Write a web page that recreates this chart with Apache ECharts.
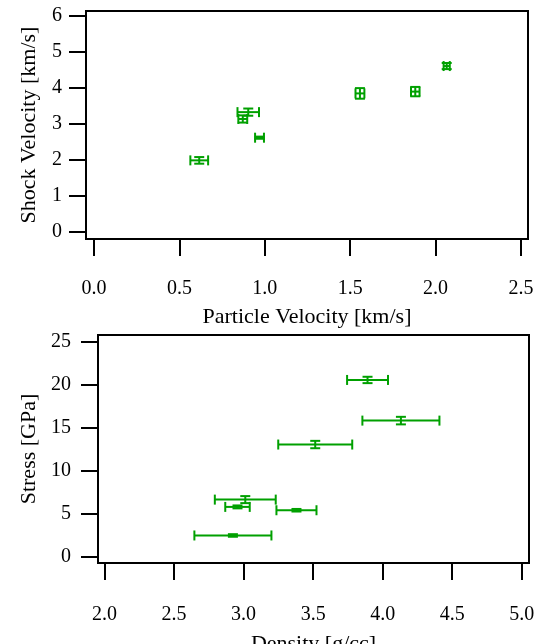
<!DOCTYPE html>
<html>
<head>
<meta charset="utf-8">
<script src="https://cdn.jsdelivr.net/npm/echarts@6/dist/echarts.min.js"></script>
<style>
html,body{margin:0;padding:0;background:#fff;}
#chart{width:538px;height:644px;}
</style>
</head>
<body>
<div id="chart"></div>
<script>
// ---- Top panel: Shock velocity vs particle velocity ----
const particleVelocity = [0.616, 0.871, 0.903, 0.969, 1.557, 1.881, 2.065];
const shockVelocity    = [1.99, 3.14, 3.33, 2.62, 3.85, 3.90, 4.61];
const particleVelErr   = [0.052, 0.026, 0.063, 0.026, 0.026, 0.025, 0.018];
const shockVelErr      = [0.092, 0.10, 0.10, 0.03, 0.147, 0.13, 0.085];
const topXTicks = [0, 0.5, 1.0, 1.5, 2.0, 2.5];
const topYTicks = [0, 1, 2, 3, 4, 5, 6];

// ---- Bottom panel: Stress vs density ----
const density     = [3.891, 4.131, 3.515, 3.012, 2.956, 3.380, 2.923];
const stress      = [20.57, 15.83, 13.04, 6.62, 5.77, 5.38, 2.44];
const densityErr  = [0.147, 0.277, 0.266, 0.219, 0.088, 0.144, 0.277];
const stressErr   = [0.37, 0.44, 0.43, 0.41, 0.17, 0.15, 0.15];
const botXTicks = [2.0, 2.5, 3.0, 3.5, 4.0, 4.5, 5.0];
const botYTicks = [0, 5, 10, 15, 20, 25];

const GREEN = '#00a000';
const FONT = 'Liberation Serif';
const CAP = 5;

function buildData(xs, ys, xe, ye) {
  return xs.map((x, i) => [x, ys[i], xe[i], ye[i]]);
}

function renderErr(params, api) {
  const x = api.value(0), y = api.value(1), xe = api.value(2), ye = api.value(3);
  const l = api.coord([x - xe, y]);
  const r = api.coord([x + xe, y]);
  const t = api.coord([x, y + ye]);
  const b = api.coord([x, y - ye]);
  const st = { stroke: GREEN, lineWidth: 2, fill: null };
  const line = (x1, y1, x2, y2) => ({ type: 'line', shape: { x1, y1, x2, y2 }, style: st });
  return {
    type: 'group',
    children: [
      line(l[0], l[1], r[0], r[1]),
      line(l[0], l[1] - CAP, l[0], l[1] + CAP),
      line(r[0], r[1] - CAP, r[0], r[1] + CAP),
      line(t[0], t[1], b[0], b[1]),
      line(t[0] - CAP, t[1], t[0] + CAP, t[1]),
      line(b[0] - CAP, b[1], b[0] + CAP, b[1])
    ]
  };
}

function xAxisCfg(gridIndex, min, max, ticks, name, margin, nameGap) {
  return {
    type: 'value', gridIndex, min, max,
    name, nameLocation: 'middle', nameGap,
    nameTextStyle: { fontFamily: FONT, fontSize: 22, color: '#000' },
    axisLine: { show: true, onZero: false, lineStyle: { color: '#000', width: 2 } },
    axisTick: { show: true, inside: false, length: 17, customValues: ticks, lineStyle: { color: '#000', width: 2 } },
    axisLabel: { customValues: ticks, margin, fontFamily: FONT, fontSize: 20, color: '#000',
                 formatter: v => Number(v).toFixed(1) },
    splitLine: { show: false }
  };
}
function yAxisCfg(gridIndex, min, max, ticks, name, margin, nameGap) {
  return {
    type: 'value', gridIndex, min, max,
    name, nameLocation: 'middle', nameGap,
    nameTextStyle: { fontFamily: FONT, fontSize: 22, color: '#000' },
    axisLine: { show: true, onZero: false, lineStyle: { color: '#000', width: 2 } },
    axisTick: { show: true, inside: false, length: 17, customValues: ticks, lineStyle: { color: '#000', width: 2 } },
    axisLabel: { customValues: ticks, margin, fontFamily: FONT, fontSize: 20, color: '#000',
                 formatter: v => String(Math.round(v)) },
    splitLine: { show: false }
  };
}

const chart = echarts.init(document.getElementById('chart'), null, { renderer: 'canvas' });
chart.setOption({
  animation: false,
  backgroundColor: '#fff',
  grid: [
    { left: 86, top: 11, width: 442, height: 228, show: true, borderColor: '#000', borderWidth: 2,
      backgroundColor: 'transparent', containLabel: false, outerBoundsMode: 'none' },
    { left: 98, top: 335, width: 431, height: 228, show: true, borderColor: '#000', borderWidth: 2,
      backgroundColor: 'transparent', containLabel: false, outerBoundsMode: 'none' }
  ],
  xAxis: [
    xAxisCfg(0, -0.047, 2.541, topXTicks, 'Particle Velocity [km/s]', 40, 67),
    xAxisCfg(1, 1.953, 5.052, botXTicks, 'Density [g/cc]', 42, 70)
  ],
  yAxis: [
    yAxisCfg(0, -0.194, 6.139, topYTicks, 'Shock Velocity [km/s]', 24, 46),
    yAxisCfg(1, -0.77, 25.81, botYTicks, 'Stress [GPa]', 27, 58)
  ],
  series: [
    { type: 'custom', xAxisIndex: 0, yAxisIndex: 0, renderItem: renderErr,
      data: buildData(particleVelocity, shockVelocity, particleVelErr, shockVelErr) },
    { type: 'custom', xAxisIndex: 1, yAxisIndex: 1, renderItem: renderErr,
      data: buildData(density, stress, densityErr, stressErr) }
  ]
});
</script>
</body>
</html>
